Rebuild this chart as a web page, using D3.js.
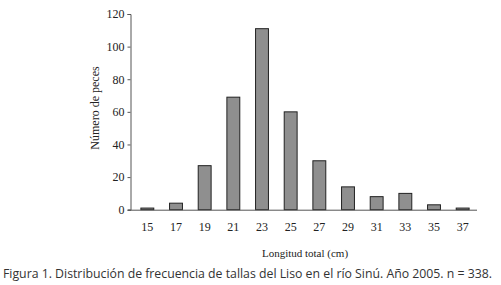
<!DOCTYPE html>
<html><head><meta charset="utf-8">
<script src="https://cdn.jsdelivr.net/npm/d3@7"></script>
<style>body{margin:0;background:#fff}</style>
</head><body>
<svg id="c" width="501" height="285"></svg>
<script>
const categories = ["15","17","19","21","23","25","27","29","31","33","35","37"];
const values = [1,4,27,69,111,60,30,14,8,10,3,1];
const yTicks = [0,20,40,60,80,100,120];

const svg = d3.select("#c");
const x = d3.scaleBand().domain(categories).range([133, 477]).paddingInner(0.55).paddingOuter(0.275);
const y = d3.scaleLinear().domain([0,120]).range([209.7, 14]);

const serif = "'Liberation Serif','DejaVu Serif',serif";

// bars
svg.selectAll("rect.bar").data(values).join("rect")
  .attr("x", (d,i)=>x(categories[i]))
  .attr("width", x.bandwidth())
  .attr("y", d=>y(d))
  .attr("height", d=>y(0)-y(d))
  .attr("fill", "#8f8f8f")
  .attr("stroke", "#222")
  .attr("stroke-width", 1);

// y axis
const ya = svg.append("g").attr("transform","translate(130.5,0)")
  .call(d3.axisLeft(y).tickValues(yTicks).tickSize(3).tickPadding(3));
ya.selectAll("text").attr("font-family", serif).attr("font-size", 12).attr("fill","#222");
ya.select(".domain").attr("stroke","#555");
ya.selectAll(".tick line").attr("stroke","#555");

// x axis
const xa = svg.append("g").attr("transform",`translate(0,${y(0)})`)
  .call(d3.axisBottom(x).tickSize(0).tickPadding(13));
xa.select(".domain").attr("d","M128,0.5H477").attr("stroke","#555");
xa.selectAll("text").attr("font-family", serif).attr("font-size", 12).attr("fill","#222");

svg.append("text").attr("x", 305).attr("y", 257).attr("text-anchor","middle")
  .attr("font-family", serif).attr("font-size", 11).attr("fill","#222").text("Longitud total (cm)");

svg.append("text").attr("transform","translate(99,108) rotate(-90)").attr("text-anchor","middle")
  .attr("font-family", serif).attr("font-size", 12).attr("fill","#222").text("Número de peces");

svg.append("text").attr("x", 3).attr("y", 277.5)
  .attr("font-family", "'Open Sans',sans-serif").attr("font-size", 12.3).attr("fill","#333")
  .attr("textLength", 489).attr("lengthAdjust","spacing")
  .text("Figura 1. Distribución de frecuencia de tallas del Liso en el río Sinú. Año 2005. n = 338.");
</script>
</body></html>
